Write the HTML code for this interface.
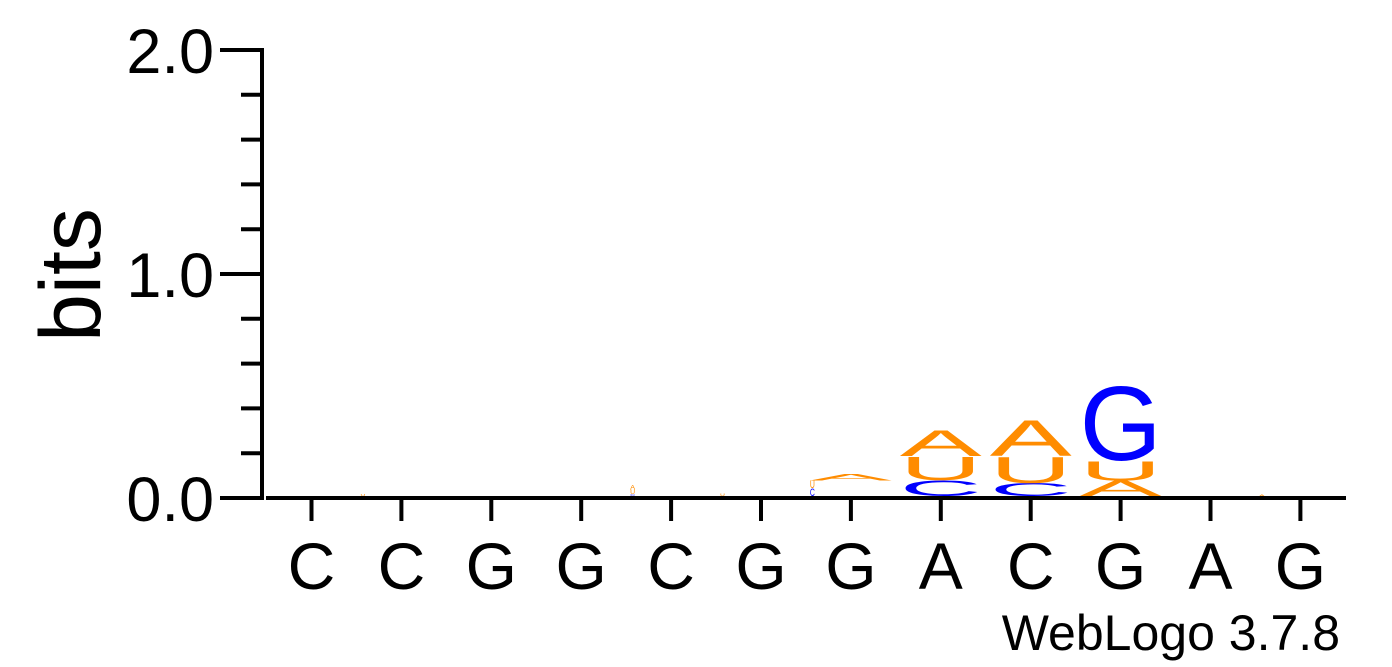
<!DOCTYPE html>
<html><head><meta charset="utf-8"><style>
html,body{margin:0;padding:0;background:#fff;}
svg{display:block;font-family:"Liberation Sans",sans-serif;}
</style></head><body>
<svg id="chart" width="1392" height="667" viewBox="0 0 1392 667">
<g id="axes"></g>
<g id="stacks"></g>
<text x="70" y="275" font-size="86" text-anchor="middle" transform="rotate(-90 70 275)" dy="30">bits</text>
<text x="1340" y="650" font-size="50" text-anchor="end">WebLogo 3.7.8</text>
</svg>
<script>
const positions = ["C","C","G","G","C","G","G","A","C","G","A","G"];
const yTicks = [0, 1, 2];
const yTickLabels = ["0.0","1.0","2.0"];
// stacks bottom -> top, heights in bits
const stackLetters = [[],["U"],[],[],["C","U","A"],["U"],["C","U","A"],["C","U","A"],["C","U","A"],["A","U","G"],[],["A"]];
const stackHeights = [[],[0.01],[],[],[0.01,0.02,0.02],[0.012],[0.035,0.035,0.03],[0.071,0.107,0.12],[0.058,0.12,0.165],[0.07,0.09,0.34],[],[0.006]];
const narrowFlags = [[],[1],[],[],[1,1,1],[1],[1,1,0],[0,0,0],[0,0,0],[0,0,0],[],[1]];
const colors = {A:"#ff8c00",U:"#ff8c00",C:"#0000ff",G:"#0000ff"};

const NS = "http://www.w3.org/2000/svg";
const y0 = 498, pxPerBit = 224, x0 = 311.5, colStep = 89.9, base = 496;
const yScale = v => y0 - v * pxPerBit;
const xScale = i => x0 + i * colStep;
function mk(tag, attrs, parent){const e=document.createElementNS(NS,tag);for(const k in attrs)e.setAttribute(k,attrs[k]);parent.appendChild(e);return e;}
const axes = document.getElementById('axes');
let yl = mk('line',{x1:262,y1:yScale(2)-2,x2:262,y2:500,stroke:'#000','stroke-width':4},axes);


let xl = mk('line',{x1:266,y1:y0,x2:1346,y2:y0,stroke:'#000','stroke-width':4},axes);


for(let k=0;k<=10;k++){
  const v=k*0.2, y=yScale(v), major=(k%5===0);
  const t=mk('line',{x1:major?220:241,y1:y,x2:262,y2:y,stroke:'#000','stroke-width':4},axes);
  
  
}
yTicks.forEach((v,i)=>{
  const t=mk('text',{x:214,y:yScale(v)+23,'font-size':63,'text-anchor':'end'},axes);
  t.textContent=yTickLabels[i];
  
  
});
positions.forEach((p,i)=>{
  const x=xScale(i);
  const t=mk('line',{x1:x,y1:500,x2:x,y2:521,stroke:'#000','stroke-width':4},axes);
  
  
  const l=mk('text',{x:x,y:589,'font-size':66,'text-anchor':'middle'},axes);
  l.textContent=p;
  
  
});
const stacks=document.getElementById('stacks');
const W=82;
stackLetters.forEach((letters,i)=>{
  let cum=0;
  letters.forEach((L,j)=>{
    const h=stackHeights[i][j];
    const yb=base-cum*pxPerBit;
    const hp=h*pxPerBit;
    cum+=h;
    if(hp<=0)return;
    const w=narrowFlags[i][j]?5:W;
    const xl=narrowFlags[i][j]?xScale(i)-W/2:xScale(i)-W/2;
    const t=mk('text',{x:0,y:0,'font-size':100,fill:colors[L],textLength:w,lengthAdjust:'spacingAndGlyphs',
      transform:`translate(${xl},${yb}) scale(1,${hp/72})`},stacks);
    t.textContent=L;
    
    
  });
});
</script>
</body></html>
